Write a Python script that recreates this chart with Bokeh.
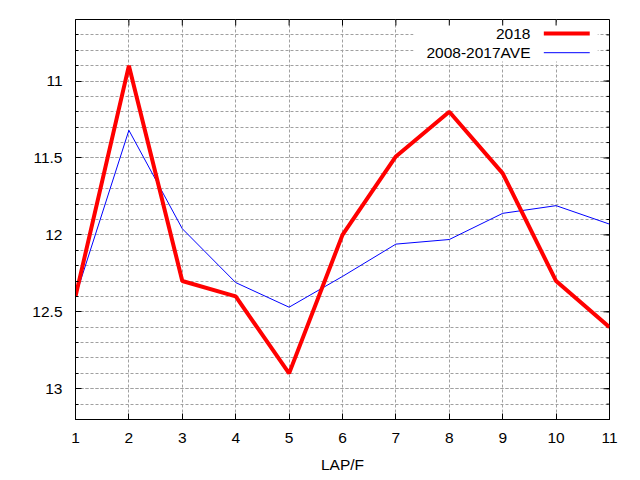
from bokeh.plotting import figure
from bokeh.models import Range1d, FixedTicker, Label, BoxAnnotation
from bokeh.embed import file_html
from bokeh.resources import INLINE

laps = [1, 2, 3, 4, 5, 6, 7, 8, 9, 10, 11]
series_2018 = [12.4, 10.9, 12.3, 12.4, 12.9, 12.0, 11.49, 11.2, 11.6, 12.3, 12.6]
series_ave = [12.4, 11.32, 11.96, 12.31, 12.47, 12.27, 12.06, 12.03, 11.86, 11.81, 11.93]
name_2018 = "2018"
name_ave = "2008-2017AVE"
x_label = "LAP/F"
y_major = [11, 11.5, 12, 12.5, 13]
y_minor = [round(10.7 + 0.1 * i, 1) for i in range(25)]

FONT = "Liberation Sans"
FS = "15.5px"
GRID = "#a0a0a0"
FW, FH = 534, 400

p = figure(frame_width=FW, frame_height=FH,
           min_border_left=75, min_border_top=19, min_border_right=23, min_border_bottom=53,
           x_range=Range1d(1, 11), y_range=Range1d(13.2, 10.6),
           output_backend="svg", toolbar_location=None)
p.background_fill_color = "white"
p.border_fill_color = "white"
p.outline_line_color = "black"
p.outline_line_width = 1

xt = FixedTicker(ticks=laps, minor_ticks=[])
yt = FixedTicker(ticks=y_major, minor_ticks=y_minor)
p.xaxis.ticker = xt
p.yaxis.ticker = yt

for ax in (p.xaxis[0], p.yaxis[0]):
    ax.major_tick_in = 6
    ax.major_tick_out = 0
    ax.minor_tick_in = 3
    ax.minor_tick_out = 0
    ax.major_label_text_font = FONT
    ax.major_label_text_font_size = FS
    ax.major_label_text_color = "black"
    ax.axis_line_color = "black"
    ax.major_tick_line_color = "black"
    ax.minor_tick_line_color = "black"

p.xaxis.major_label_standoff = 13
p.yaxis.major_label_standoff = 13
p.xaxis.axis_label = x_label
p.xaxis.axis_label_text_font = FONT
p.xaxis.axis_label_text_font_size = FS
p.xaxis.axis_label_text_font_style = "normal"
p.xaxis.axis_label_text_color = "black"
p.xaxis.axis_label_standoff = 10

for g in (p.xgrid[0], p.ygrid[0]):
    g.grid_line_color = GRID
    g.grid_line_dash = "3 2"
    g.grid_line_width = 1
p.xgrid.ticker = xt
p.ygrid.ticker = yt
p.ygrid.minor_grid_line_color = GRID
p.ygrid.minor_grid_line_dash = "3 2"
p.ygrid.minor_grid_line_width = 1

# mirrored inward ticks on top and right borders (gnuplot style)
x0, x1 = p.x_range.start, p.x_range.end
ytop, ybot = p.y_range.end, p.y_range.start
px_x = (x1 - x0) / FW
px_y = (ybot - ytop) / FH
p.segment(x0=laps, x1=laps, y0=[ytop] * len(laps), y1=[ytop + 6 * px_y] * len(laps),
          line_color="black", line_width=1)
p.segment(x0=[x1] * len(y_major), x1=[x1 - 6 * px_x] * len(y_major), y0=y_major, y1=y_major,
          line_color="black", line_width=1)
p.segment(x0=[x1] * len(y_minor), x1=[x1 - 3 * px_x] * len(y_minor), y0=y_minor, y1=y_minor,
          line_color="black", line_width=1)

p.line(laps, series_ave, line_color="#0000ff", line_width=1)
p.line(laps, series_2018, line_color="#ff0000", line_width=4)

# legend (gnuplot style: text left, sample right), positioned in frame fractions
def fx(f):
    return x0 + f * (x1 - x0)

def fy(f):
    return ytop + f * (ybot - ytop)

box = BoxAnnotation(left=fx(0.633), right=fx(0.978), top=fy(0.008), bottom=fy(0.105),
                    fill_color="white", fill_alpha=1.0, line_color=None, level="underlay")
p.add_layout(box)

rows = [(name_2018, "#ff0000", 4, 0.035), (name_ave, "#0000ff", 1, 0.083)]
for name, col, w, fr in rows:
    yy = fy(fr)
    p.add_layout(Label(x=fx(0.852), y=yy, text=name, text_align="right", text_baseline="middle",
                       text_font=FONT, text_font_size=FS, text_color="black"))
    p.segment(x0=[fx(0.877)], x1=[fx(0.963)], y0=[yy], y1=[yy], line_color=col, line_width=w)

open("out.html", "w").write(file_html(p, INLINE))
